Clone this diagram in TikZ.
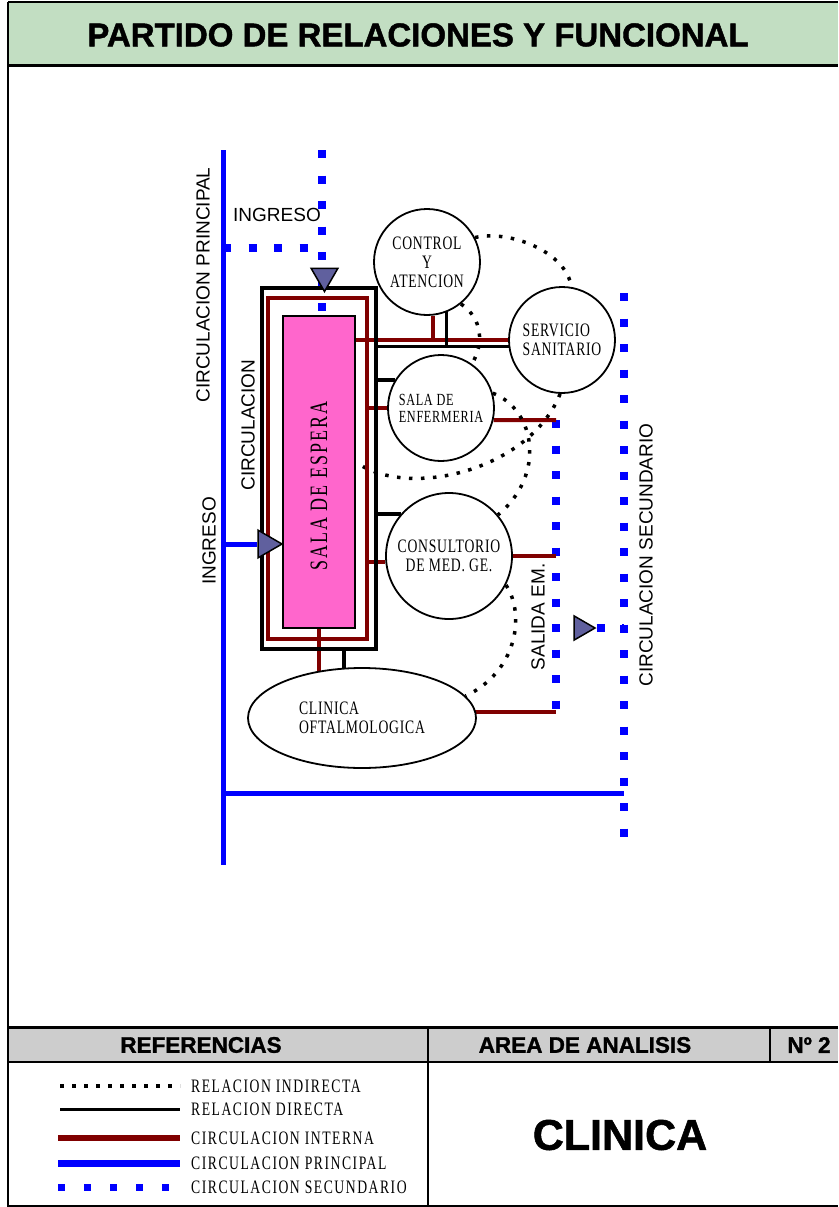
\documentclass[tikz,border=0pt]{standalone}
\usepackage{fontspec}
\setmainfont{Liberation Serif}
\setsansfont{Liberation Sans}
\newfontfamily\planofont[FakeStretch=0.72,LetterSpace=4]{Liberation Serif}
\newfontfamily\leyfont[FakeStretch=0.72,LetterSpace=8]{Liberation Serif}
\newfontfamily\negrita[FakeBold=1.3]{Liberation Sans}
\usetikzlibrary{shapes,arrows}
\usetikzlibrary{positioning,backgrounds,calc}

\definecolor{granate}{RGB}{128,0,0}
\definecolor{azul}{RGB}{0,0,255}
\definecolor{rosa}{RGB}{255,102,204}
\definecolor{triang}{RGB}{96,96,158}
\definecolor{verdetit}{RGB}{194,222,194}
\definecolor{grisref}{RGB}{205,205,205}

\begin{document}
\begin{tikzpicture}[x=1pt, y=1pt,
recinto/.style={circle, draw, line width=1.8pt, fill=white, minimum size=106pt, inner sep=0pt, align=center, font=\planofont\fontsize{19}{19}\selectfont},
interna/.style={granate, line width=4pt},
directa/.style={black, line width=3.5pt},
indirecta/.style={black, line width=3.5pt, dash pattern=on 3.5pt off 8.5pt},
principal/.style={azul, line width=5pt},
secundaria/.style={azul, line width=8pt, dash pattern=on 8pt off 17.5pt},
flecha/.style={regular polygon, regular polygon sides=3, draw, line width=1.5pt, fill=triang, inner sep=0pt},
rotulo/.style={font=\sffamily\fontsize{19}{19}\selectfont, inner sep=0pt},
leyenda/.style={anchor=west, inner sep=0pt, font=\leyfont\fontsize{19}{19}\selectfont},
cabecera/.style={font=\negrita\bfseries\fontsize{22.5}{22.5}\selectfont, inner sep=0pt}]

\useasboundingbox (0,0) rectangle (838,-1207);

% marco de la lamina
\fill[verdetit] (8,-2) rectangle (838,-66);
\fill[grisref] (8,-1027) rectangle (838,-1062);
\draw[line width=2pt] (8,-2) -- (838,-2);
\draw[line width=1.5pt] (8,-2) -- (8,-1207);
\draw[line width=3pt] (8,-66) -- (838,-66);
\draw[line width=3pt] (8,-1027) -- (838,-1027);
\draw[line width=2.5pt] (8,-1062) -- (838,-1062);
\draw[line width=2pt] (8,-1205.5) -- (838,-1205.5);
\draw[line width=2pt] (428,-1027) -- (428,-1207);
\draw[line width=2pt] (770,-1027) -- (770,-1062);

\node[font=\negrita\bfseries\fontsize{33}{33}\selectfont] (titulo) at (418,-35) {PARTIDO DE RELACIONES Y FUNCIONAL};

% sala de espera y circulacion
\node[draw, line width=4pt, minimum width=114pt, minimum height=361pt, inner sep=0pt] (pasillo) at (319,-468.5) {};
\node[draw=granate, line width=4pt, minimum width=99pt, minimum height=341pt, inner sep=0pt] (circint) at (317.5,-468.5) {};
\node[draw, line width=1.5pt, fill=rosa, minimum width=72pt, minimum height=312pt, inner sep=0pt] (espera) at (319,-472) {};
\node[rotate=90, inner sep=0pt, font=\leyfont\fontsize{25}{25}\selectfont] (esperatxt) at ([yshift=-14pt]espera.center) {SALA DE ESPERA};

% recintos
\node[recinto] (control) at (427,-262) {CONTROL\\Y\\ATENCION};
\node[recinto, align=left] (servicio) at (562,-340) {SERVICIO\\SANITARIO};
\node[recinto, align=left, font=\planofont\fontsize{17}{17}\selectfont] (enfermeria) at (441,-408) {SALA DE\\ENFERMERIA};
\node[recinto, minimum size=126pt] (consultorio) at (449,-556) {CONSULTORIO\\DE MED. GE.};
\node[ellipse, draw, line width=1.8pt, fill=white, minimum width=228pt, minimum height=100pt, inner sep=0pt, align=left, font=\planofont\fontsize{19}{19}\selectfont] (oftalmo) at (362,-718) {CLINICA\\OFTALMOLOGICA};

% ingresos y salida
\node[flecha, shape border rotate=180, minimum size=31pt] (ingsup) at (324.5,-276) {};
\node[flecha, shape border rotate=-90, minimum size=32pt] (ingizq) at (266,-544) {};
\node[flecha, shape border rotate=-90, minimum size=28pt] (salida) at (581,-628) {};

\coordinate (cpn) at (223,-150);
\coordinate (cps) at (223,-865);
\coordinate (cpe) at (624,-793);
\coordinate (csn) at (322,-150);
\coordinate (ingsec) at (322,-248);
\coordinate (saln) at (556,-420);
\coordinate (sals) at (556,-712);
\coordinate (csecn) at (624,-293);
\coordinate (csecs) at (624,-845);

% rotulos
\node[rotulo] (ingreso1) at (277,-215) {INGRESO};
\node[rotulo, rotate=90] (cprin) at (203,-285) {CIRCULACION PRINCIPAL};
\node[rotulo, rotate=90, fill=white, text depth=5pt, inner xsep=3pt] (ingreso2) at (211.5,-541) {INGRESO};
\node[rotulo, rotate=90] (circ) at (248,-425) {CIRCULACION};
\node[rotulo, rotate=90] (salidaem) at (538,-617) {SALIDA EM.};
\node[rotulo, rotate=90] (csec) at (646,-555) {CIRCULACION SECUNDARIO};

\begin{scope}[on background layer]
% circulaciones
\draw[principal] (cpn) -- (cps);
\draw[principal] (cps |- cpe) -- (cpe);
\draw[principal] (cpn |- ingizq) -- (ingizq);
\draw[secundaria] (csn) -- (csn |- espera.north);
\draw[secundaria] (cpn |- ingsec) -- (ingsec);
\draw[secundaria] (saln) -- (sals);
\draw[secundaria] (csecn) -- (csecs);
\draw[secundaria] (salida.east) -- (salida.east -| csecn);
% relaciones
\draw[interna] (espera.east |- servicio.west) -- (servicio.west);
\draw[interna] (control.-84) -- (control.-84 |- servicio.west);
\draw[directa] (pasillo.east |- servicio.187) -- (servicio.187);
\draw[directa] (control.-69) -- (control.-69 |- servicio.187);
\draw[directa] (pasillo.east |- enfermeria.149) -- (enfermeria.149);
\draw[interna] (circint.east |- enfermeria.west) -- (enfermeria.west);
\draw[interna] (enfermeria.-13) -- (saln);
\draw[directa] (pasillo.east |- consultorio.139) -- (consultorio.139);
\draw[interna] (circint.east |- consultorio.185) -- (consultorio.185);
\draw[interna] (consultorio.east) -- (consultorio.east -| saln);
\draw[interna] (espera.south) -- (espera.south |- oftalmo.center);
\draw[directa] ([xshift=25pt]pasillo.south) -- ([xshift=25pt]pasillo.south |- oftalmo.center);
\draw[interna] (oftalmo.center |- sals) -- (sals);
% relaciones indirectas
\draw[indirecta] (control.27) .. controls +(35,8) and +(-5,35) .. (servicio.80);
\draw[indirecta] (control.-51) .. controls +(22,-15) and +(12,20) .. (enfermeria.55);
\draw[indirecta] (servicio.-92) .. controls +(-30,-76) and +(53,-38) .. ([yshift=10pt]espera.east);
\draw[indirecta] (enfermeria.16) .. controls +(43,-17) and +(48,40) .. (consultorio.40);
\draw[indirecta] (consultorio.-27) .. controls +(20,-30) and +(51,24) .. (oftalmo.12);
\end{scope}

% referencias
\node[cabecera] (ref) at (201,-1045) {REFERENCIAS};
\node[cabecera] (area) at (585,-1045) {AREA DE ANALISIS};
\node[cabecera] (num) at (809,-1045) {Nº 2};
\node[font=\negrita\bfseries\fontsize{43}{43}\selectfont] (clinica) at (620,-1135) {CLINICA};

\node[leyenda] (ley1) at (191,-1086) {RELACION INDIRECTA};
\node[leyenda] (ley2) at (191,-1109) {RELACION DIRECTA};
\node[leyenda] (ley3) at (191,-1138) {CIRCULACION INTERNA};
\node[leyenda] (ley4) at (191,-1163) {CIRCULACION PRINCIPAL};
\node[leyenda] (ley5) at (191,-1187) {CIRCULACION SECUNDARIO};
\draw[indirecta] ([xshift=-131pt]ley1.west) -- ([xshift=-11pt]ley1.west);
\draw[black, line width=3pt] ([xshift=-131pt]ley2.west) -- ([xshift=-11pt]ley2.west);
\draw[granate, line width=6pt] ([xshift=-133pt]ley3.west) -- ([xshift=-11pt]ley3.west);
\draw[azul, line width=7pt] ([xshift=-133pt]ley4.west) -- ([xshift=-11pt]ley4.west);
\draw[azul, line width=7pt, dash pattern=on 7pt off 19pt] ([xshift=-133pt]ley5.west) -- ([xshift=-11pt]ley5.west);
\end{tikzpicture}
\end{document}
